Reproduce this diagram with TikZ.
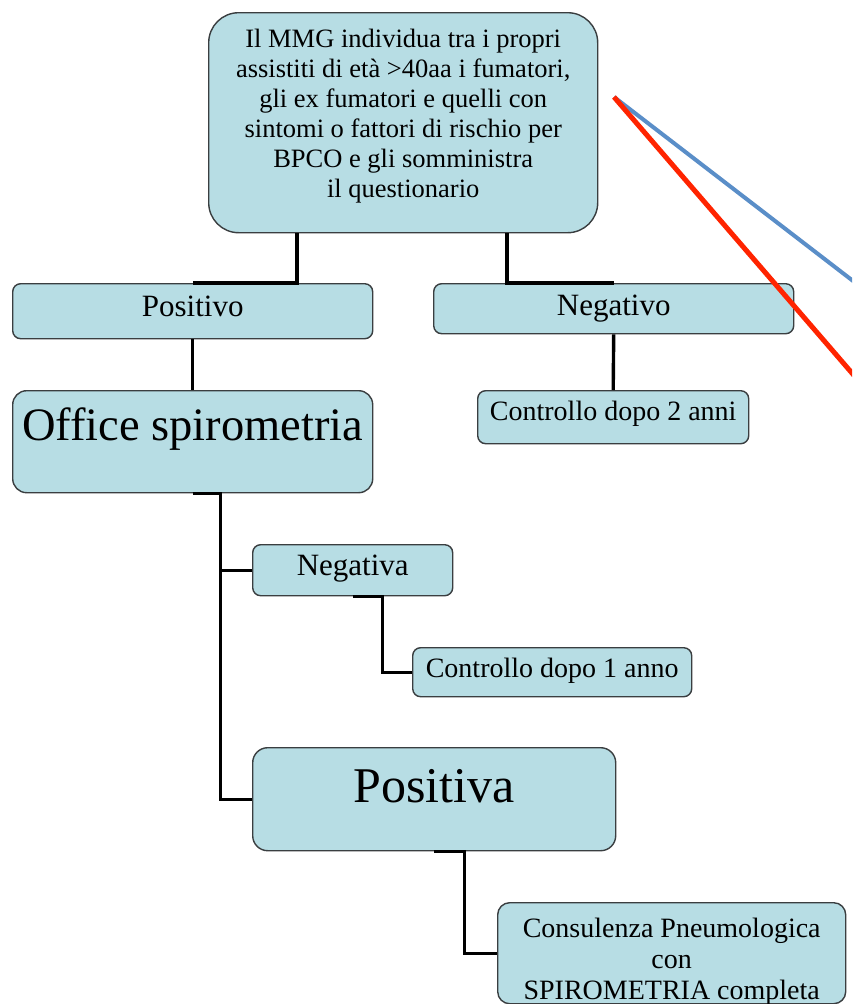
\documentclass[tikz,border=0pt]{standalone}
\usepackage{fontspec}
\setmainfont{Liberation Serif}
\usetikzlibrary{calc}
\definecolor{boxfill}{RGB}{183,221,228}
\definecolor{boxline}{RGB}{58,62,64}
\definecolor{markblue}{RGB}{90,142,200}
\definecolor{markred}{RGB}{255,36,0}
\begin{document}
\begin{tikzpicture}[x=1pt,y=-1pt,
  flowbox/.style={draw=boxline, fill=boxfill, line width=1.4pt, inner sep=0pt,
    anchor=north west, rounded corners=8pt, text=black},
  conn/.style={draw=black, line width=3.4pt},
  fs/.style={font=\fontsize{#1}{#1}\selectfont}]
  \useasboundingbox (0,0) rectangle (852,1004);
  \fill[white] (0,0) rectangle (852,1004);
  \clip (0,0) rectangle (852,1004);

  % boxes
  \node[flowbox, rounded corners=30pt, minimum width=389pt, text height=35pt, text depth=185pt,
        font=\fontsize{26.5}{30}\selectfont] (top) at (208,12)
    {\parbox[t]{385pt}{\centering Il MMG individua tra i propri\\
      assistiti di età >40aa i fumatori,\\
      gli ex fumatori e quelli con\\
      sintomi o fattori di rischio per\\
      BPCO e gli somministra\\
      il questionario}};

  \node[flowbox, fs=31, minimum width=360pt, text height=33pt, text depth=22pt] (pos) at (12,283) {Positivo};
  \node[flowbox, fs=31, minimum width=360pt, text height=32pt, text depth=18pt] (neg) at (433,283) {Negativo};
  \node[flowbox, rounded corners=14pt, fs=46.5, minimum width=360pt, text height=50pt, text depth=52pt] (off) at (12,390) {Office spirometria};
  \node[flowbox, fs=28, minimum width=271pt, text height=30pt, text depth=23pt] (ctwo) at (477,390) {Controllo dopo 2 anni};
  \node[flowbox, fs=31, minimum width=200pt, text height=31pt, text depth=20pt] (nga) at (252,544) {Negativa};
  \node[flowbox, fs=28, minimum width=279pt, text height=30pt, text depth=19pt] (cone) at (412,647) {Controllo dopo 1 anno};
  \node[flowbox, rounded corners=15pt, fs=50, minimum width=363pt, text height=55pt, text depth=48pt] (psa) at (252,747) {Positiva};
  \node[flowbox, rounded corners=12pt, minimum width=348pt, text height=35pt, text depth=66pt,
        font=\fontsize{28}{31}\selectfont] (cons) at (497,902)
    {\parbox[t]{340pt}{\centering Consulenza Pneumologica\\ con\\ SPIROMETRIA completa}};

  % connectors
  \draw[conn] ($(top.south west)+(89,0)$) |- (pos.north);
  \draw[conn] ($(top.south west)+(299,0)$) |- (neg.north);
  \draw[conn] (pos.south) -- (off.north);
  \draw[conn] (neg.south) -- (ctwo.north);
  \draw[conn] (off.south) -- ++(28,0) |- (nga.west);
  \draw[conn] (off.south) -- ++(28,0) |- (psa.west);
  \draw[conn] (nga.south) -- ++(30,0) |- (cone.west);
  \draw[conn] (psa.south) -- ++(30,0) |- (cons.west);

  % marker strokes
  \coordinate (mk) at (614,97);
  \coordinate (mkblue) at (870,294);
  \coordinate (mkred) at (870,394);
  \draw[markblue, line width=4pt] (mk) -- (mkblue);
  \draw[markred, line width=5pt] (mk) -- (mkred);
\end{tikzpicture}
\end{document}
